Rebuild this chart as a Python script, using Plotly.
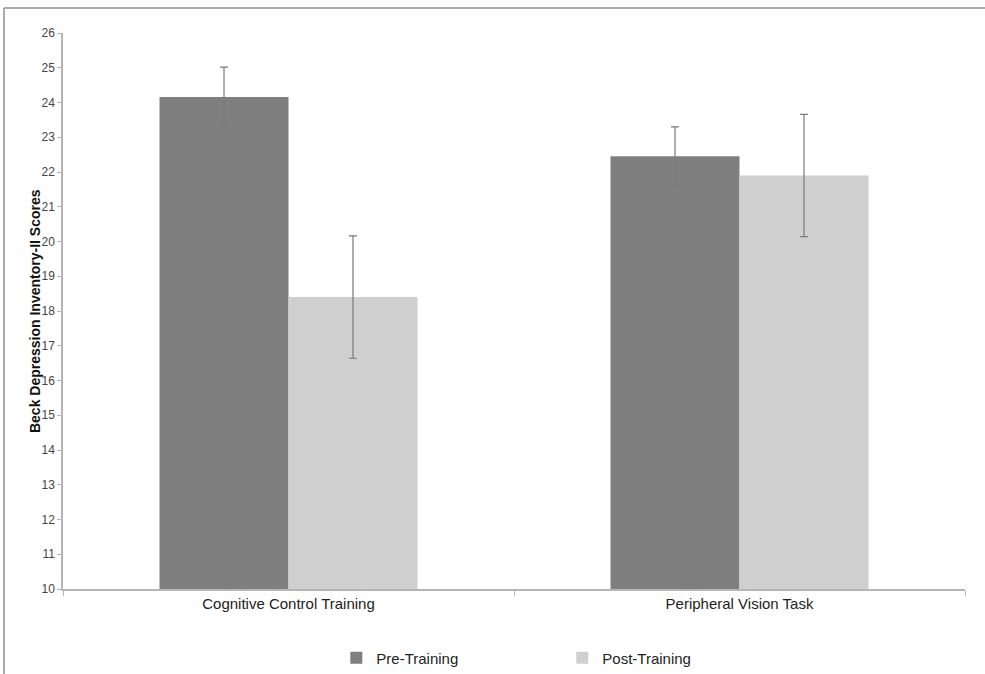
import plotly.graph_objects as go

categories = ["Cognitive Control Training", "Peripheral Vision Task"]
pre_values = [24.16, 22.45]
pre_errors = [0.86, 0.85]
post_values = [18.40, 21.90]
post_errors = [1.76, 1.76]
y_ticks = list(range(10, 27))

FONT = "Liberation Sans, Arial, sans-serif"

fig = go.Figure()
fig.add_trace(go.Bar(
    name="Pre-Training", x=categories, y=pre_values,
    marker=dict(color="#7f7f7f", line=dict(width=0)),
    error_y=dict(type="data", array=pre_errors, visible=True,
                 color="#7a7a7a", thickness=1.2, width=4),
))
fig.add_trace(go.Bar(
    name="Post-Training", x=categories, y=post_values,
    marker=dict(color="#cfcfcf", line=dict(width=0)),
    error_y=dict(type="data", array=post_errors, visible=True,
                 color="#7a7a7a", thickness=1.2, width=4),
))

fig.update_layout(
    width=985, height=674,
    margin=dict(l=63, r=20, t=33, b=85),
    paper_bgcolor="white", plot_bgcolor="white",
    barmode="group", bargap=0.428, bargroupgap=0,
    font=dict(family=FONT, color="#333333", size=11),
    showlegend=True,
    legend=dict(orientation="h", x=0.303, y=0.0237, xref="paper", yref="container",
                xanchor="left", yanchor="middle",
                entrywidth=181, entrywidthmode="pixels",
                font=dict(size=15, color="#222222"), itemsizing="constant",
                bgcolor="rgba(0,0,0,0)", traceorder="normal"),
    xaxis=dict(
        type="category", showline=True, linecolor="#b5b5b5", linewidth=1.5,
        ticks="outside", tickson="boundaries", ticklen=5, tickcolor="#b5b5b5",
        tickfont=dict(size=15, color="#222222"), showgrid=False, zeroline=False,
    ),
    yaxis=dict(
        range=[10, 26], tickvals=y_ticks, showline=True, linecolor="#b5b5b5",
        linewidth=1.5, ticks="outside", ticklen=4, tickcolor="#b5b5b5",
        tickfont=dict(size=12, color="#444444"), showgrid=False, zeroline=False,
    ),
    annotations=[
        dict(text="<b>Beck Depression Inventory-II Scores</b>", xref="paper", yref="paper",
             x=-0.031, y=0.5, xanchor="center", yanchor="middle", textangle=-90,
             showarrow=False, font=dict(size=14, color="#111111")),
    ],
    shapes=[
        dict(type="line", xref="paper", yref="paper", x0=-0.0654, x1=1.03,
             y0=1.045, y1=1.045, line=dict(color="#909090", width=1.5)),
        dict(type="line", xref="paper", yref="paper", x0=-0.0654, x1=-0.0654,
             y0=1.045, y1=-0.16, line=dict(color="#909090", width=1.5)),
    ],
)

fig.write_html(
    "out.html",
    config={"displayModeBar": False},
    post_script="document.body.style.margin='0';document.body.style.overflow='hidden';",
)
